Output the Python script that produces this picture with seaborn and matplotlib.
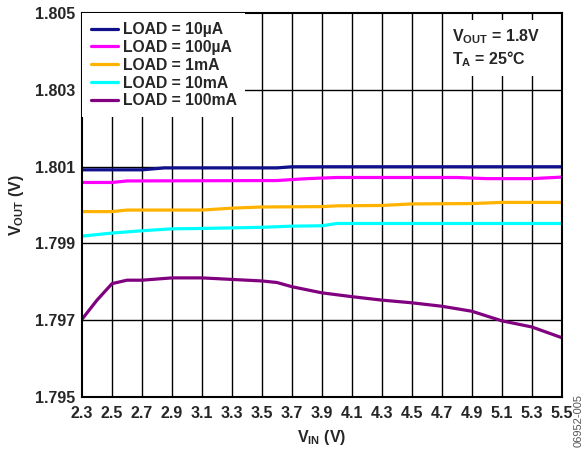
import pandas as pd
import seaborn as sns
import matplotlib.pyplot as plt

# data
loads = ['LOAD = 10µA', 'LOAD = 100µA', 'LOAD = 1mA', 'LOAD = 10mA', 'LOAD = 100mA']
colors = ['#10108C', '#FF00FF', '#FFB300', '#00FFFF', '#800080']

vin_10ua = [2.3, 2.7, 2.85, 3.6, 3.7, 5.5]
vout_10ua = [1.80092, 1.80092, 1.80097, 1.80097, 1.80100, 1.80100]

vin_100ua = [2.3, 2.5, 2.6, 3.6, 3.8, 4.0, 4.8, 5.0, 5.3, 5.5]
vout_100ua = [1.80059, 1.80059, 1.80063, 1.80064, 1.80069, 1.80072, 1.80072, 1.80069, 1.80069, 1.80073]

vin_1ma = [2.3, 2.5, 2.6, 3.1, 3.3, 3.5, 3.9, 4.0, 4.3, 4.5, 4.9, 5.1, 5.5]
vout_1ma = [1.79983, 1.79983, 1.79987, 1.79987, 1.79992, 1.79995, 1.79996, 1.79998, 1.79999,
            1.80003, 1.80004, 1.80007, 1.80007]

vin_10ma = [2.3, 2.5, 2.7, 2.9, 3.1, 3.5, 3.7, 3.9, 4.0, 5.5]
vout_10ma = [1.79919, 1.79927, 1.79933, 1.79938, 1.79939, 1.79942, 1.79945, 1.79946, 1.79952, 1.79952]

vin_100ma = [2.3, 2.4, 2.5, 2.6, 2.7, 2.9, 3.1, 3.3, 3.5, 3.6, 3.7, 3.9, 4.1, 4.3, 4.5, 4.7,
             4.9, 5.1, 5.3, 5.5]
vout_100ma = [1.79702, 1.79752, 1.79795, 1.79804, 1.79804, 1.7981, 1.7981, 1.79806, 1.79802,
              1.79798, 1.79787, 1.79771, 1.79761, 1.79752, 1.79745, 1.79736, 1.79723, 1.79698,
              1.79682, 1.79654]

x_ticks = [2.3, 2.5, 2.7, 2.9, 3.1, 3.3, 3.5, 3.7, 3.9, 4.1, 4.3, 4.5, 4.7, 4.9, 5.1, 5.3, 5.5]
y_ticks = [1.795, 1.797, 1.799, 1.801, 1.803, 1.805]

frames = []
for name, xs, ys in zip(loads,
                        [vin_10ua, vin_100ua, vin_1ma, vin_10ma, vin_100ma],
                        [vout_10ua, vout_100ua, vout_1ma, vout_10ma, vout_100ma]):
    frames.append(pd.DataFrame({'vin': xs, 'vout': ys, 'load': name}))
df = pd.concat(frames, ignore_index=True)

sns.set_style('white')
plt.rcParams['font.family'] = ['Liberation Sans', 'DejaVu Sans']
plt.rcParams['font.weight'] = 'bold'
plt.rcParams['mathtext.fontset'] = 'custom'
plt.rcParams['mathtext.rm'] = 'Liberation Sans:bold'
plt.rcParams['mathtext.bf'] = 'Liberation Sans:bold'
plt.rcParams['mathtext.it'] = 'Liberation Sans:bold'

fig = plt.figure(figsize=(5.87, 4.49), dpi=100)
ax = fig.add_axes([0.1397, 0.1165, 0.8173, 0.8535])

sns.lineplot(data=df, x='vin', y='vout', hue='load', hue_order=loads, palette=colors,
             linewidth=2.3, ax=ax, sort=False, estimator=None)

ax.set_xlim(2.3, 5.5)
ax.set_ylim(1.795, 1.805)
ax.set_xticks(x_ticks)
ax.set_xticklabels([f'{v:.1f}' for v in x_ticks])
ax.set_yticks(y_ticks)
ax.set_yticklabels([f'{v:.3f}' for v in y_ticks])
ax.tick_params(axis='x', length=0, labelsize=11.5, pad=7)
ax.tick_params(axis='y', length=0, labelsize=11.5, pad=5)
for lab in ax.get_xticklabels() + ax.get_yticklabels():
    lab.set_fontweight('bold')

for v in x_ticks[1:-1]:
    ax.axvline(v, color='black', linewidth=1, zorder=0.5)
for v in y_ticks[1:-1]:
    ax.axhline(v, color='black', linewidth=1, zorder=0.5)

for s in ax.spines.values():
    s.set_color('black')
    s.set_linewidth(1.5)

ax.set_xlabel(r'$\mathregular{V_{IN}}$ (V)', fontsize=11.5, fontweight='bold', labelpad=5)
ax.set_ylabel(r'$\mathregular{V_{OUT}}$ (V)', fontsize=11.5, fontweight='bold', labelpad=6)

leg = ax.legend(loc='upper left', frameon=True, fancybox=False, framealpha=1,
                facecolor='white', edgecolor='none', borderaxespad=0.0,
                prop={'size': 11.3, 'weight': 'bold'}, handlelength=1.75,
                handletextpad=0.3, labelspacing=0.18, borderpad=0.55)
leg.set_zorder(5)

ax.text(0.771, 0.965, 'V$_\\mathregular{OUT}$ = 1.8V\nT$_\\mathregular{A}$ = 25°C',
        transform=ax.transAxes, ha='left', va='top', fontsize=11.5, fontweight='bold',
        linespacing=1.25, zorder=6,
        bbox=dict(facecolor='white', edgecolor='none', boxstyle='square,pad=0.45'))

fig.text(0.985, 0.005, '06952-005', rotation=90, fontsize=8, color='#555555',
         fontweight='normal', ha='center', va='bottom')

fig.savefig('out.png', dpi=100)
